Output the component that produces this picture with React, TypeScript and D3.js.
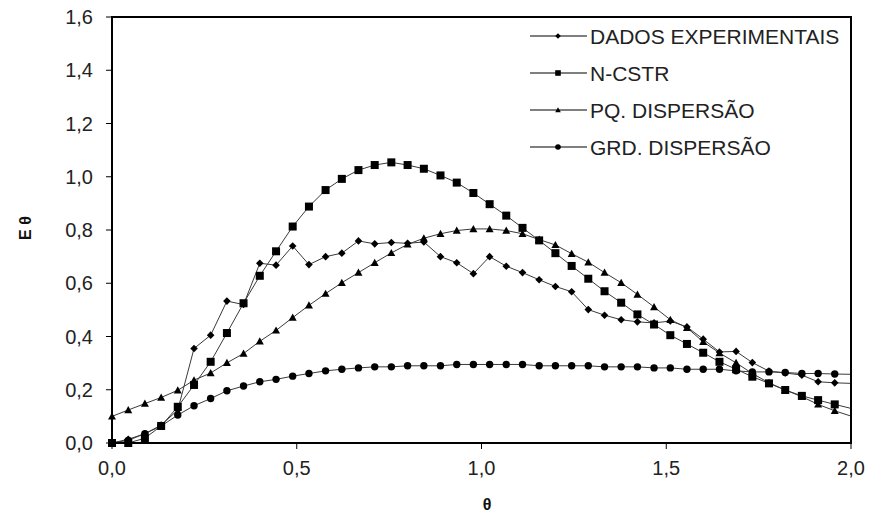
import React from 'react';
import * as d3 from 'd3';

// theta grid of the measurements (last point sits on the axis end)
const THETA = [
  0, 0.044, 0.089, 0.133, 0.178, 0.222, 0.267, 0.311, 0.356, 0.4,
  0.444, 0.489, 0.533, 0.578, 0.622, 0.667, 0.711, 0.756, 0.8, 0.844,
  0.889, 0.933, 0.978, 1.022, 1.067, 1.111, 1.156, 1.2, 1.244, 1.289,
  1.333, 1.378, 1.422, 1.467, 1.511, 1.556, 1.6, 1.644, 1.689, 1.733,
  1.778, 1.822, 1.867, 1.911, 1.956, 2.0,
];

const DADOS_EXPERIMENTAIS = [
  0, 0.014, 0.035, 0.067, 0.124, 0.355, 0.405, 0.533, 0.52, 0.675,
  0.668, 0.74, 0.67, 0.7, 0.713, 0.759, 0.748, 0.753, 0.75, 0.755,
  0.7, 0.677, 0.636, 0.7, 0.664, 0.64, 0.613, 0.588, 0.568, 0.501,
  0.48, 0.463, 0.455, 0.451, 0.458, 0.436, 0.39, 0.342, 0.344, 0.302,
  0.27, 0.263, 0.255, 0.23, 0.226, 0.224,
];

const N_CSTR = [
  0, 0, 0.018, 0.064, 0.136, 0.218, 0.305, 0.413, 0.525, 0.628,
  0.72, 0.813, 0.888, 0.95, 0.992, 1.025, 1.044, 1.054, 1.044, 1.03,
  1.005, 0.978, 0.939, 0.897, 0.854, 0.808, 0.761, 0.713, 0.665, 0.617,
  0.57, 0.527, 0.483, 0.445, 0.405, 0.372, 0.339, 0.305, 0.277, 0.249,
  0.224, 0.199, 0.177, 0.161, 0.145, 0.13,
];

const PQ_DISPERSAO = [
  0.1, 0.124, 0.148, 0.171, 0.198, 0.236, 0.263, 0.301, 0.336, 0.382,
  0.423, 0.471, 0.517, 0.561, 0.602, 0.64, 0.677, 0.714, 0.746, 0.769,
  0.786, 0.798, 0.804, 0.804, 0.798, 0.786, 0.764, 0.744, 0.711, 0.679,
  0.64, 0.602, 0.558, 0.511, 0.463, 0.433, 0.38, 0.338, 0.301, 0.261,
  0.226, 0.199, 0.174, 0.145, 0.121, 0.101,
];

const GRD_DISPERSAO = [
  0, 0.01, 0.035, 0.064, 0.105, 0.14, 0.167, 0.196, 0.214, 0.23,
  0.239, 0.251, 0.261, 0.271, 0.277, 0.282, 0.286, 0.286, 0.29, 0.29,
  0.29, 0.295, 0.295, 0.295, 0.295, 0.295, 0.29, 0.29, 0.29, 0.29,
  0.286, 0.286, 0.286, 0.282, 0.282, 0.277, 0.277, 0.277, 0.271, 0.267,
  0.267, 0.265, 0.261, 0.261, 0.259, 0.258,
];

const SERIES = [
  { name: 'DADOS EXPERIMENTAIS', values: DADOS_EXPERIMENTAIS, marker: 'diamond' },
  { name: 'N-CSTR', values: N_CSTR, marker: 'square' },
  { name: 'PQ. DISPERSÃO', values: PQ_DISPERSAO, marker: 'triangle' },
  { name: 'GRD. DISPERSÃO', values: GRD_DISPERSAO, marker: 'circle' },
];

const X_TICKS = [0, 0.5, 1.0, 1.5, 2.0];
const Y_TICKS = [0, 0.2, 0.4, 0.6, 0.8, 1.0, 1.2, 1.4, 1.6];

const width = 869;
const height = 516;
const plot = { left: 112, right: 851, top: 17, bottom: 443 };
const FONT = '"Liberation Sans", Arial, sans-serif';

const fmt = (v: number) => d3.format('.1f')(v).replace('.', ',');

// marker drawn centered at (x, y); s = half size
const Marker = ({ type, x, y, s }: { type: string; x: number; y: number; s: number }) => {
  if (type === 'circle') return <circle cx={x} cy={y} r={s} fill="#000" />;
  if (type === 'square')
    return <rect x={x - s} y={y - s} width={s * 2} height={s * 2} fill="#000" />;
  if (type === 'triangle')
    return (
      <path
        d={`M${x},${y - s} L${x + s},${y + s * 0.8} L${x - s},${y + s * 0.8} Z`}
        fill="#000"
      />
    );
  return <path d={`M${x},${y - s} L${x + s},${y} L${x},${y + s} L${x - s},${y} Z`} fill="#000" />;
};

const markerSize: Record<string, number> = { diamond: 3.8, square: 4, triangle: 4, circle: 3.7 };

const App = () => {
  const x = d3.scaleLinear().domain([0, 2]).range([plot.left, plot.right]);
  const y = d3.scaleLinear().domain([0, 1.6]).range([plot.bottom, plot.top]);

  const line = d3
    .line<number>()
    .x((_, i) => x(THETA[i]))
    .y((d) => y(d));

  return (
    <svg
      width={width}
      height={height}
      style={{ position: 'absolute', left: 0, top: 0, background: '#fff' }}
      fontFamily={FONT}
    >
      <rect x={0} y={0} width={width} height={height} fill="#fff" />

      {/* series lines */}
      {SERIES.map((s) => (
        <path key={s.name} d={line(s.values) || ''} fill="none" stroke="#3a3a3a" strokeWidth={1} />
      ))}

      {/* markers, none on the axis end */}
      {SERIES.map((s) => (
        <g key={s.name + '-m'}>
          {s.values.map((v, i) =>
            THETA[i] < 2 ? (
              <Marker key={i} type={s.marker} x={x(THETA[i])} y={y(v)} s={markerSize[s.marker]} />
            ) : null
          )}
        </g>
      ))}

      {/* frame */}
      <rect
        x={plot.left}
        y={plot.top}
        width={plot.right - plot.left}
        height={plot.bottom - plot.top}
        fill="none"
        stroke="#000"
        strokeWidth={2}
      />

      {/* y axis */}
      {Y_TICKS.map((t) => (
        <g key={t}>
          <line x1={plot.left - 6} x2={plot.left} y1={y(t)} y2={y(t)} stroke="#000" strokeWidth={1} />
          <text
            x={plot.left - 19}
            y={y(t)}
            dy="0.36em"
            textAnchor="end"
            fontSize={20}
            fill="#222"
          >
            {fmt(t)}
          </text>
        </g>
      ))}

      {/* x axis */}
      {X_TICKS.map((t) => (
        <g key={t}>
          <line x1={x(t)} x2={x(t)} y1={plot.bottom} y2={plot.bottom + 6} stroke="#000" strokeWidth={1} />
          <text x={x(t)} y={plot.bottom + 25} dy="0.36em" textAnchor="middle" fontSize={20} fill="#222">
            {fmt(t)}
          </text>
        </g>
      ))}

      {/* axis titles */}
      <text
        x={487}
        y={504}
        dy="0.36em"
        textAnchor="middle"
        fontSize={16}
        fontWeight="bold"
        fill="#111"
      >
        θ
      </text>
      <text
        transform={`translate(25,228) rotate(-90)`}
        dy="0.36em"
        textAnchor="middle"
        fontSize={16}
        fontWeight="bold"
        fill="#111"
      >
        E θ
      </text>

      {/* legend */}
      {SERIES.map((s, i) => {
        const ly = 36 + i * 37;
        return (
          <g key={s.name + '-l'}>
            <line x1={530} x2={587} y1={ly} y2={ly} stroke="#000" strokeWidth={1.2} />
            <Marker type={s.marker} x={558} y={ly} s={2.8} />
            <text x={590} y={ly} dy="0.36em" fontSize={21} fill="#222">
              {s.name}
            </text>
          </g>
        );
      })}
    </svg>
  );
};

export default App;
